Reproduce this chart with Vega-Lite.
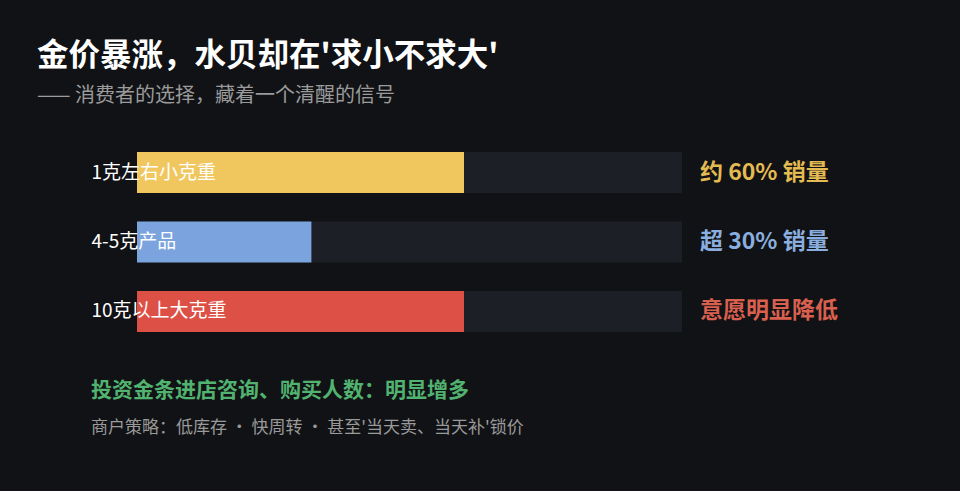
{
  "$schema": "https://vega.github.io/schema/vega-lite/v6.json",
  "width": 545,
  "height": 180,
  "autosize": {"type": "none"},
  "padding": {"left": 137, "top": 152, "right": 278, "bottom": 159},
  "background": "#111215",
  "title": {
    "text": "金价暴涨，水贝却在'求小不求大'",
    "subtitle": "—— 消费者的选择，藏着一个清醒的信号",
    "anchor": "start",
    "frame": "group",
    "dx": -100,
    "offset": 46,
    "font": "Noto Sans CJK SC",
    "fontSize": 31.5,
    "fontWeight": "bold",
    "color": "#ffffff",
    "subtitleFont": "Noto Sans CJK SC",
    "subtitleFontSize": 20,
    "subtitleColor": "#9b9b9b",
    "subtitlePadding": 14
  },
  "config": {
    "view": {"stroke": null},
    "font": "Noto Sans CJK SC"
  },
  "datasets": {
    "bars": [
      {"item": "1克左右小克重", "share": 60, "note": "约 60% 销量"},
      {"item": "4-5克产品", "share": 32, "note": "超 30% 销量"},
      {"item": "10克以上大克重", "share": 60, "note": "意愿明显降低"}
    ],
    "notes": [
      {"line": "a", "text": "投资金条进店咨询、购买人数：明显增多"},
      {"line": "b", "text": "商户策略：低库存 · 快周转 · 甚至'当天卖、当天补'锁价"}
    ]
  },
  "resolve": {"scale": {"y": "independent", "color": "independent"}},
  "layer": [
    {
      "data": {"name": "bars"},
      "mark": {"type": "bar", "color": "#1c1f25", "cornerRadius": 0},
      "encoding": {
        "x": {"datum": 0, "type": "quantitative", "scale": {"domain": [0, 100], "nice": false}, "axis": null},
        "x2": {"datum": 100},
        "y": {"field": "item", "type": "nominal", "sort": null, "scale": {"type": "band", "paddingInner": 0.41, "paddingOuter": 0}, "axis": null}
      }
    },
    {
      "data": {"name": "bars"},
      "mark": {"type": "bar"},
      "encoding": {
        "x": {"field": "share", "type": "quantitative", "axis": null},
        "y": {
          "field": "item",
          "type": "nominal",
          "sort": null,
          "scale": {"type": "band", "paddingInner": 0.41, "paddingOuter": 0},
          "axis": {
            "title": null,
            "domain": false,
            "ticks": false,
            "labelPadding": 46,
            "labelAlign": "left",
            "labelColor": "#ffffff",
            "labelFontSize": 19,
            "labelFont": "Noto Sans CJK SC",
            "zindex": 1
          }
        },
        "color": {
          "field": "item",
          "type": "nominal",
          "scale": {
            "domain": ["1克左右小克重", "4-5克产品", "10克以上大克重"],
            "range": ["#f0c75e", "#7ba3dd", "#dd5045"]
          },
          "legend": null
        }
      }
    },
    {
      "data": {"name": "bars"},
      "mark": {"type": "text", "align": "left", "baseline": "middle", "dx": 18, "fontSize": 23, "fontWeight": "bold"},
      "encoding": {
        "x": {"datum": 100, "type": "quantitative"},
        "y": {"field": "item", "type": "nominal", "sort": null, "scale": {"type": "band", "paddingInner": 0.41, "paddingOuter": 0}, "axis": null},
        "text": {"field": "note"},
        "color": {
          "field": "item",
          "type": "nominal",
          "scale": {
            "domain": ["1克左右小克重", "4-5克产品", "10克以上大克重"],
            "range": ["#e4bb52", "#8aaedf", "#d9604f"]
          },
          "legend": null
        }
      }
    },
    {
      "data": {"name": "notes"},
      "layer": [
        {
          "transform": [{"filter": "datum.line == 'a'"}],
          "mark": {"type": "text", "align": "left", "baseline": "middle", "dx": -46, "fontSize": 21, "fontWeight": "bold", "color": "#52b370"},
          "encoding": {
            "x": {"datum": 0, "type": "quantitative"},
            "y": {"field": "line", "type": "ordinal", "scale": {"type": "point", "domain": ["a", "b"], "range": [239, 276], "padding": 0}, "axis": null},
            "text": {"field": "text"}
          }
        },
        {
          "transform": [{"filter": "datum.line == 'b'"}],
          "mark": {"type": "text", "align": "left", "baseline": "middle", "dx": -46, "fontSize": 17, "color": "#9a9a9a"},
          "encoding": {
            "x": {"datum": 0, "type": "quantitative"},
            "y": {"field": "line", "type": "ordinal", "scale": {"type": "point", "domain": ["a", "b"], "range": [239, 276], "padding": 0}, "axis": null},
            "text": {"field": "text"}
          }
        }
      ]
    }
  ]
}
